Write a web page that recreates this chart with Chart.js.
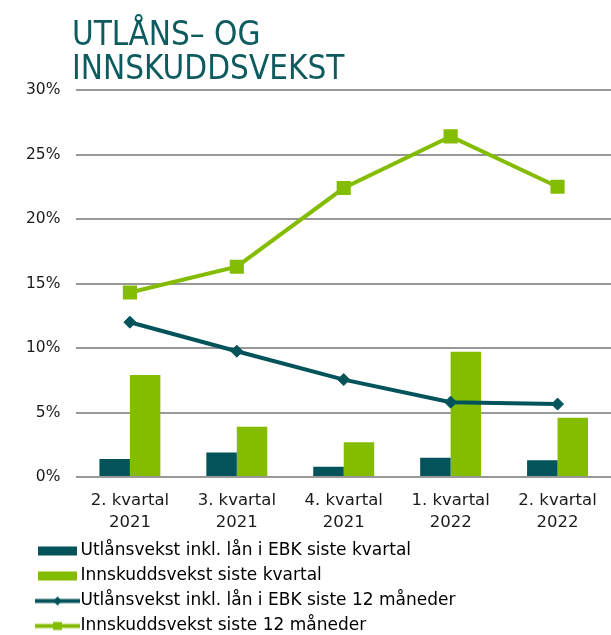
<!DOCTYPE html>
<html>
<head>
<meta charset="utf-8">
<script src="https://cdn.jsdelivr.net/npm/chart.js@4/dist/chart.umd.min.js"></script>
<style>
  body { margin: 0; background: #fff; }
  #wrap { position: relative; width: 611px; height: 635px; }
  #title {
    position: absolute; left: 72px; top: 17px;
    font-family: "DejaVu Sans Condensed", "DejaVu Sans", sans-serif;
    font-stretch: condensed;
    font-size: 33px; line-height: 34px; color: #0d5b5e;
    white-space: nowrap;
  }
  canvas { position: absolute; left: 0; top: 0; }
</style>
</head>
<body>
<div id="wrap">
  <canvas id="chart" width="611" height="635"></canvas>
  <div id="title">UTLÅNS– OG<br>INNSKUDDSVEKST</div>
</div>
<script>
const categories = [
  ["2. kvartal", "2021"],
  ["3. kvartal", "2021"],
  ["4. kvartal", "2021"],
  ["1. kvartal", "2022"],
  ["2. kvartal", "2022"]
];
const lendQuarter = [1.4, 1.9, 0.8, 1.5, 1.3];
const depositQuarter = [7.9, 3.9, 2.7, 9.7, 4.6];
const lend12m = [12.0, 9.75, 7.55, 5.8, 5.65];
const deposit12m = [14.3, 16.3, 22.4, 26.4, 22.5];
const yTicks = [0, 5, 10, 15, 20, 25, 30];

const seriesNames = [
  "Utlånsvekst inkl. lån i EBK siste kvartal",
  "Innskuddsvekst siste kvartal",
  "Utlånsvekst inkl. lån i EBK siste 12 måneder",
  "Innskuddsvekst siste 12 måneder"
];

const teal = "#03535a";
const green = "#84bc00";
const font = "DejaVu Sans";

// legend pictures, wide canvas with empty left part so the sample sits where the original has it
function legendImage(color, kind) {
  const c = document.createElement("canvas");
  c.width = 70;
  c.height = 11;
  const g = c.getContext("2d");
  g.fillStyle = color;
  g.strokeStyle = color;
  if (kind === "bar") {
    g.fillRect(28, 1, 39, 9);
  } else {
    g.lineWidth = 4;
    g.beginPath();
    g.moveTo(25, 5.5);
    g.lineTo(70, 5.5);
    g.stroke();
    const cx = 47.5;
    g.beginPath();
    if (kind === "diamond") {
      g.moveTo(cx, 1); g.lineTo(cx + 4.5, 5.5); g.lineTo(cx, 10); g.lineTo(cx - 4.5, 5.5);
      g.closePath();
      g.fill();
    } else {
      g.fillRect(cx - 4.5, 1.5, 9, 8);
    }
  }
  return c;
}
const legendPics = [
  legendImage(teal, "bar"),
  legendImage(green, "bar"),
  legendImage(teal, "diamond"),
  legendImage(green, "square")
];

new Chart(document.getElementById("chart"), {
  type: "bar",
  data: {
    labels: categories,
    datasets: [
      { label: seriesNames[0], data: lendQuarter, backgroundColor: teal, order: 1 },
      { label: seriesNames[1], data: depositQuarter, backgroundColor: green, order: 1 },
      {
        type: "line", label: seriesNames[2], data: lend12m,
        borderColor: teal, backgroundColor: teal, borderWidth: 4,
        pointStyle: "rectRot", pointRadius: 6, pointBorderWidth: 1, tension: 0, order: 0
      },
      {
        type: "line", label: seriesNames[3], data: deposit12m,
        borderColor: green, backgroundColor: green, borderWidth: 4,
        pointStyle: "rect", pointRadius: 10, pointBorderWidth: 0, tension: 0, order: 0
      }
    ]
  },
  options: {
    responsive: false,
    animation: false,
    layout: {
      autoPadding: false, // big square markers would otherwise add room on the right
      padding: { top: 90, left: 10, right: 0, bottom: -9.5 }
    },
    datasets: { bar: { categoryPercentage: 0.57, barPercentage: 1.0 } },
    scales: {
      x: {
        grid: { display: false, drawTicks: false },
        border: { display: false },
        afterFit: (axis) => {
          axis.height = 57.5;
          axis.paddingLeft = 0;
          axis.paddingRight = 0;
        },
        ticks: {
          color: "#1a1a1a", padding: 13, maxRotation: 0,
          font: { family: font, size: 16.5, lineHeight: 22 / 16.5 }
        }
      },
      y: {
        min: 0, max: 30,
        afterBuildTicks: (axis) => { axis.ticks = yTicks.map(v => ({ value: v })); },
        grid: { color: "#989898", lineWidth: 2, drawTicks: false },
        border: { display: false },
        ticks: {
          color: "#1a1a1a", padding: 16,
          font: { family: font, size: 15.5 },
          callback: (v) => v + "%"
        }
      }
    },
    plugins: {
      tooltip: { enabled: false },
      legend: {
        position: "bottom", align: "start",
        labels: {
          usePointStyle: true, pointStyleWidth: 54, padding: 8, color: "#111",
          font: { family: font, size: 17 },
          generateLabels: (chart) => seriesNames.map((name, i) => ({
            text: name, pointStyle: legendPics[i],
            fillStyle: "transparent", strokeStyle: "transparent", lineWidth: 0,
            datasetIndex: i, hidden: false
          }))
        }
      }
    }
  }
});
</script>
</body>
</html>
